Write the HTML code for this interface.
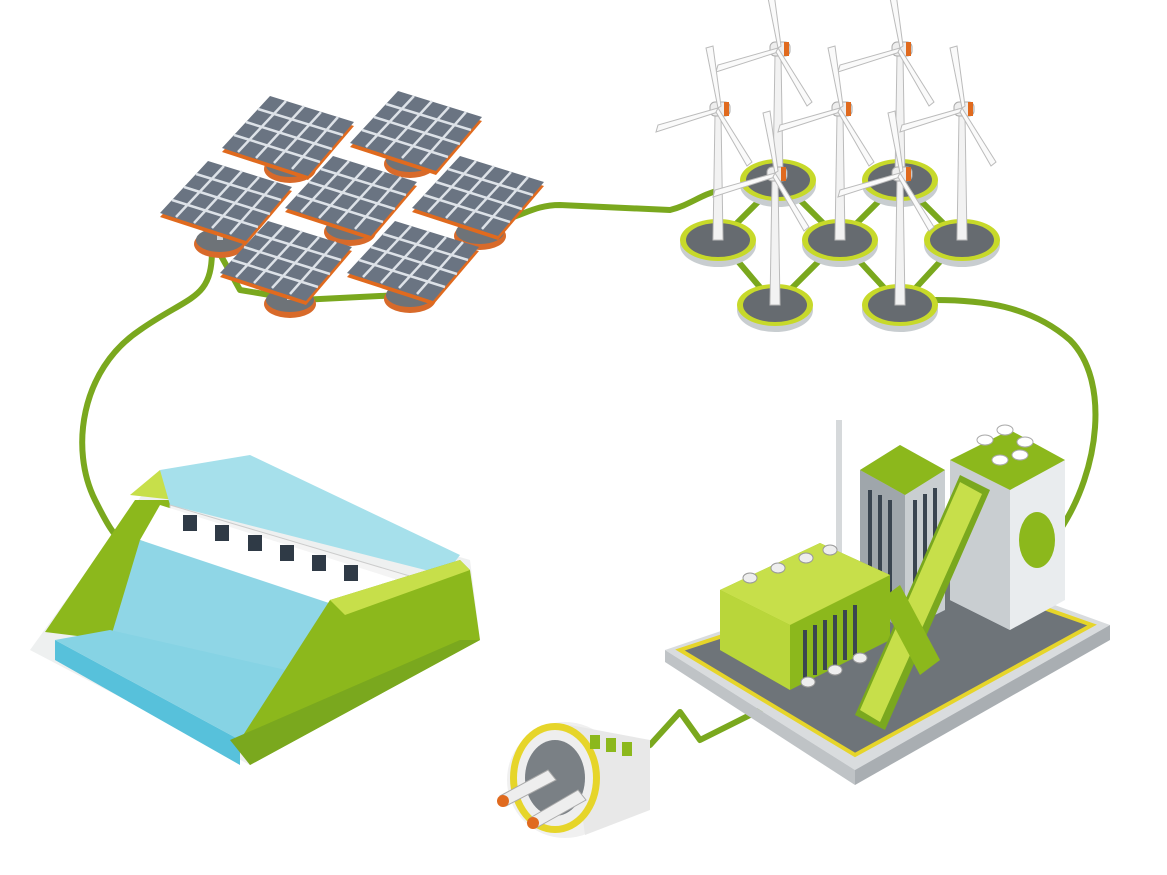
<!DOCTYPE html>
<html><head><meta charset="utf-8"><style>
html,body{margin:0;padding:0;background:#fff;}
svg{display:block;}
</style></head><body>
<svg width="1167" height="875" viewBox="0 0 1167 875" xmlns="http://www.w3.org/2000/svg">
<defs>
<g id="panel">
  <polygon points="0,52 48,0 132,26 86,80" fill="#e06a1e"/>
  <polygon points="0,48 48,-4 132,22 86,76" fill="#6a7482"/>
  <g stroke="#dde2e8" stroke-width="2.5">
    <line x1="12" y1="35" x2="98" y2="62"/><line x1="24" y1="22" x2="110" y2="49"/><line x1="36" y1="9" x2="121" y2="35"/>
    <line x1="16" y1="52" x2="64" y2="1"/><line x1="34" y1="58" x2="82" y2="6"/><line x1="52" y1="63" x2="99" y2="12"/><line x1="70" y1="69" x2="116" y2="17"/>
  </g>
</g>
<g id="pbase">
  <ellipse cx="0" cy="4" rx="26" ry="14" fill="#d86a2a"/>
  <ellipse cx="0" cy="0" rx="24" ry="12" fill="#6e7378"/>
  <rect x="-3" y="-30" width="6" height="30" fill="#cfd3d6"/>
</g>
<g id="turb">
  <ellipse cx="0" cy="5" rx="38" ry="22" fill="#c8cdd0"/>
  <ellipse cx="0" cy="0" rx="38" ry="21" fill="#c7d92a"/>
  <ellipse cx="0" cy="0" rx="32" ry="17" fill="#666b70"/>
  <polygon points="-5,0 5,0 3,-125 -3,-125" fill="#f2f2f2" stroke="#bbb" stroke-width="1"/>
  <rect x="-8" y="-138" width="20" height="14" rx="5" fill="#eee" stroke="#aaa"/>
  <rect x="6" y="-138" width="5" height="14" fill="#e06a1e"/>
  <polygon points="0,-132 -60,-115 -62,-108 0,-128" fill="#fafafa" stroke="#bbb"/>
  <polygon points="0,-132 -12,-192 -5,-194 3,-134" fill="#fafafa" stroke="#bbb"/>
  <polygon points="0,-132 34,-78 29,-74 -2,-128" fill="#fafafa" stroke="#bbb"/>
</g>
</defs>

<!-- cables -->
<g fill="none" stroke="#7aa81e" stroke-width="6" stroke-linecap="round" stroke-linejoin="round">
  <path d="M212,250 C212,300 190,295 140,330 C80,370 70,450 95,500 C105,520 115,540 130,548"/>
  <path d="M480,225 C520,220 530,205 560,205 L670,210 C690,205 700,195 720,190"/>
  <path d="M935,300 C980,300 1030,305 1070,340 C1110,380 1100,470 1060,530"/>
  <path d="M770,705 L700,740 L680,712 L650,745 L600,770"/>
  <path d="M215,245 L240,290 L300,300 L400,295 L430,280"/>
  <path d="M720,240 L780,180 L840,240 L900,180 L960,240 L900,305 L840,240 L775,305 L720,240"/>
</g>

<!-- solar panels -->
<use href="#pbase" x="290" y="300"/>
<use href="#pbase" x="410" y="295"/>
<use href="#pbase" x="220" y="240"/>
<use href="#pbase" x="480" y="232"/>
<use href="#pbase" x="290" y="165"/>
<use href="#pbase" x="410" y="160"/>
<use href="#pbase" x="350" y="228"/>
<use href="#panel" x="222" y="100"/>
<use href="#panel" x="350" y="95"/>
<use href="#panel" x="160" y="165"/>
<use href="#panel" x="285" y="160"/>
<use href="#panel" x="412" y="160"/>
<use href="#panel" x="220" y="225"/>
<use href="#panel" x="347" y="225"/>

<!-- turbines -->
<use href="#turb" x="778" y="180"/>
<use href="#turb" x="900" y="180"/>
<use href="#turb" x="718" y="240"/>
<use href="#turb" x="840" y="240"/>
<use href="#turb" x="962" y="240"/>
<use href="#turb" x="775" y="305"/>
<use href="#turb" x="900" y="305"/>

<!-- dam -->
<polygon points="30,650 250,765 480,640 470,560 160,470" fill="#eef0f0"/>
<polygon points="45,632 135,500 180,500 110,640" fill="#8cb81c"/>
<polygon points="130,495 160,470 175,500" fill="#c7df4a"/>
<polygon points="160,470 250,455 460,555 445,575 170,505" fill="#a6e0eb"/>
<polygon points="170,505 440,585 440,600 170,518" fill="#f4f4f4" stroke="#ccc"/>
<polygon points="160,505 430,590 340,615 140,540" fill="#ffffff"/>
<g fill="#2f3a46">
  <rect x="183" y="515" width="14" height="16"/><rect x="215" y="525" width="14" height="16"/>
  <rect x="248" y="535" width="14" height="16"/><rect x="280" y="545" width="14" height="16"/>
  <rect x="312" y="555" width="14" height="16"/><rect x="344" y="565" width="14" height="16"/>
</g>
<polygon points="110,640 140,540 350,610 330,680 240,740" fill="#8fd6e6"/>
<polygon points="55,640 240,740 240,765 55,660" fill="#57c1db"/>
<polygon points="55,640 110,630 330,680 240,740" fill="#86d3e4"/>
<polygon points="330,600 460,560 470,570 480,640 250,765 240,740" fill="#8cb81c"/>
<polygon points="230,740 250,765 480,640 460,640" fill="#7aa81e"/>
<polygon points="330,600 460,560 470,570 345,615" fill="#c7df4a"/>

<!-- factory platform -->
<polygon points="665,650 930,560 1110,625 855,770" fill="#d9dcde"/>
<polygon points="665,650 855,770 855,785 665,662" fill="#bfc3c6"/>
<polygon points="855,770 1110,625 1110,640 855,785" fill="#a9aeb2"/>
<polygon points="680,650 930,568 1092,625 855,755" fill="#6e7479" stroke="#e6d52a" stroke-width="4"/>
<!-- tall building -->
<polygon points="860,470 900,445 945,470 945,610 905,630 860,605" fill="#c9ced1"/>
<polygon points="860,470 905,495 905,630 860,605" fill="#9fa6ab"/>
<polygon points="860,470 900,445 945,470 905,495" fill="#8cb81c"/>
<g stroke="#3a4550" stroke-width="4"><line x1="870" y1="490" x2="870" y2="600"/><line x1="880" y1="495" x2="880" y2="605"/><line x1="890" y1="500" x2="890" y2="610"/><line x1="915" y1="500" x2="915" y2="610"/><line x1="925" y1="494" x2="925" y2="604"/><line x1="935" y1="488" x2="935" y2="598"/></g>
<!-- green tower -->
<polygon points="950,460 1010,430 1065,460 1065,600 1010,630 950,600" fill="#e9ecee"/>
<polygon points="950,460 1010,490 1010,630 950,600" fill="#c9ced1"/>
<polygon points="950,460 1010,430 1065,460 1010,490" fill="#8cb81c"/>
<ellipse cx="1037" cy="540" rx="18" ry="28" fill="#8cb81c"/>
<g fill="#fff" stroke="#aaa"><ellipse cx="985" cy="440" rx="8" ry="5"/><ellipse cx="1005" cy="430" rx="8" ry="5"/><ellipse cx="1025" cy="442" rx="8" ry="5"/><ellipse cx="1000" cy="460" rx="8" ry="5"/><ellipse cx="1020" cy="455" rx="8" ry="5"/></g>
<!-- chimney -->
<rect x="836" y="420" width="6" height="140" fill="#d6d9db"/>
<!-- low building -->
<polygon points="720,590 820,543 890,575 890,640 790,690 720,650" fill="#8cb81c"/>
<polygon points="720,590 790,625 790,690 720,650" fill="#b9d63a"/>
<polygon points="720,590 820,543 890,575 790,625" fill="#c7df4a"/>
<g stroke="#3a4550" stroke-width="4"><line x1="805" y1="630" x2="805" y2="680"/><line x1="815" y1="625" x2="815" y2="675"/><line x1="825" y1="620" x2="825" y2="670"/><line x1="835" y1="615" x2="835" y2="665"/><line x1="845" y1="610" x2="845" y2="660"/><line x1="855" y1="605" x2="855" y2="655"/></g>
<g fill="#eee" stroke="#999"><ellipse cx="750" cy="578" rx="7" ry="5"/><ellipse cx="778" cy="568" rx="7" ry="5"/><ellipse cx="806" cy="558" rx="7" ry="5"/><ellipse cx="830" cy="550" rx="7" ry="5"/><ellipse cx="808" cy="682" rx="7" ry="5"/><ellipse cx="835" cy="670" rx="7" ry="5"/><ellipse cx="860" cy="658" rx="7" ry="5"/></g>
<!-- conveyor -->
<polygon points="855,715 960,475 990,490 885,730" fill="#7aa81e"/>
<polygon points="860,710 960,482 982,494 880,722" fill="#c7df4a"/>
<polygon points="880,600 900,585 940,660 920,675" fill="#8cb81c"/>

<!-- plug -->
<ellipse cx="565" cy="780" rx="58" ry="58" fill="#f0f0f0"/>
<polygon points="570,725 650,740 650,810 585,835" fill="#e8e8e8"/>
<ellipse cx="555" cy="778" rx="45" ry="55" fill="#e6d52a"/>
<ellipse cx="555" cy="778" rx="38" ry="48" fill="#eee"/>
<ellipse cx="555" cy="778" rx="30" ry="38" fill="#7a8085"/>
<g fill="#8cb81c"><rect x="590" y="735" width="10" height="14"/><rect x="606" y="738" width="10" height="14"/><rect x="622" y="742" width="10" height="14"/></g>
<polygon points="500,796 548,770 556,780 506,806" fill="#eee" stroke="#aaa"/>
<polygon points="530,818 578,790 586,800 536,828" fill="#eee" stroke="#aaa"/>
<ellipse cx="503" cy="801" rx="6" ry="6" fill="#e06a1e"/>
<ellipse cx="533" cy="823" rx="6" ry="6" fill="#e06a1e"/>
</svg>
</body></html>
